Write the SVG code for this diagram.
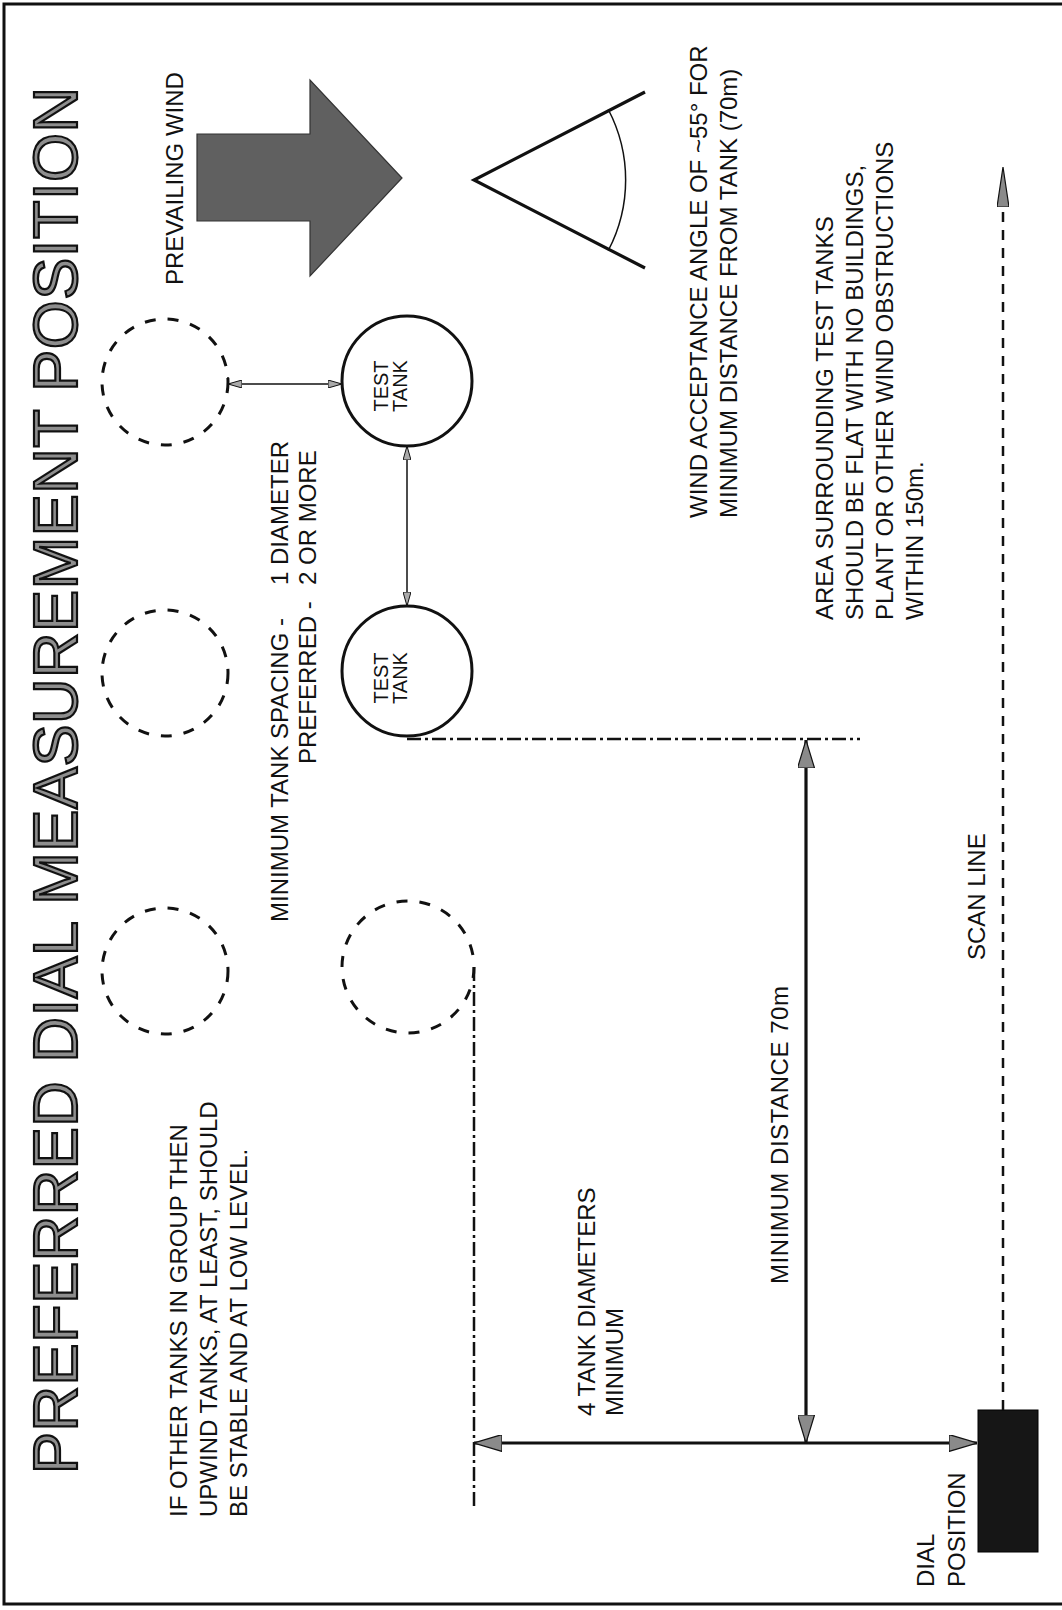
<svg xmlns="http://www.w3.org/2000/svg" width="1062" height="1610" viewBox="0 0 1062 1610">
<defs>
<style>
.t{font-family:"Liberation Sans",Arial,Helvetica,sans-serif;font-size:24px;fill:#111}
.title{font-size:63px;fill:#8e8e8e;stroke:#111;stroke-width:2.2}
.tk{font-size:20px;text-anchor:middle}
.dashc{fill:none;stroke:#111;stroke-width:3;stroke-dasharray:11 12}
.tank{fill:none;stroke:#111;stroke-width:3}
.dd{fill:none;stroke:#111;stroke-width:2.5;stroke-dasharray:14 4 3 4}
.scan{fill:none;stroke:#111;stroke-width:2.5;stroke-dasharray:10 8}
.thin{fill:none;stroke:#111;stroke-width:1.5}
.thick{fill:none;stroke:#111;stroke-width:3.2}
</style>
<marker id="big" viewBox="0 0 28 17" refX="28" refY="8.5" markerWidth="28" markerHeight="17" markerUnits="userSpaceOnUse" orient="auto-start-reverse">
<path d="M0,0 L28,8.5 L0,17 Z" fill="#8a8a8a" stroke="#111" stroke-width="1.2"/>
</marker>
<marker id="small" viewBox="0 0 14 8" refX="14" refY="4" markerWidth="14" markerHeight="8" markerUnits="userSpaceOnUse" orient="auto-start-reverse">
<path d="M0,0 L14,4 L0,8 Z" fill="#aaa" stroke="#111" stroke-width="1"/>
</marker>
<marker id="scanhead" viewBox="0 0 40 12" refX="40" refY="6" markerWidth="40" markerHeight="12" markerUnits="userSpaceOnUse" orient="auto">
<path d="M0,0 L40,6 L0,12 Z" fill="#8a8a8a" stroke="#111" stroke-width="1.2"/>
</marker>
</defs>
<rect width="1062" height="1610" fill="#fff"/>
<path id="frame" d="M1062,4 H4 V1604 H1062" fill="none" stroke="#111" stroke-width="3"/>

<g id="title"><text class="t title" transform="rotate(-90)" x="-1474" y="77" textLength="1387" lengthAdjust="spacing">PREFERRED DIAL MEASUREMENT POSITION</text></g>

<g id="wind-arrow">
<polygon points="197,134 310,134 310,80 402,178 310,276 310,221 197,221" fill="#606060" stroke="#333" stroke-width="1.2"/>
<text class="t" transform="rotate(-90)" x="-285" y="183">PREVAILING WIND</text>
</g>

<g id="acceptance-angle">
<polyline class="thick" points="645,92 474,180 645,268"/>
<path class="thin" d="M608.3,109.5 A152,152 0 0 1 608.3,250.5"/>
<text class="t" transform="rotate(-90)" x="-518" y="707">WIND ACCEPTANCE ANGLE OF ~55° FOR</text>
<text class="t" transform="rotate(-90)" x="-518" y="737">MINIMUM DISTANCE FROM TANK (70m)</text>
</g>

<g id="upwind-tank-1"><circle class="dashc" cx="165" cy="382" r="63"/></g>
<g id="upwind-tank-2"><circle class="dashc" cx="165" cy="673" r="63"/></g>
<g id="upwind-tank-3"><circle class="dashc" cx="165" cy="971" r="63"/></g>
<g id="other-tank"><circle class="dashc" cx="408" cy="967" r="66"/></g>

<g id="test-tank-1">
<circle class="tank" cx="407" cy="381" r="65"/>
<text class="t tk" transform="rotate(-90)" x="-386" y="388">TEST</text>
<text class="t tk" transform="rotate(-90)" x="-386" y="407">TANK</text>
</g>
<g id="test-tank-2">
<circle class="tank" cx="407" cy="671" r="65"/>
<text class="t tk" transform="rotate(-90)" x="-678" y="388">TEST</text>
<text class="t tk" transform="rotate(-90)" x="-678" y="407">TANK</text>
</g>

<g id="dial-position">
<rect x="978" y="1410" width="60" height="142" fill="#161616" stroke="#000" stroke-width="1"/>
<text class="t" transform="rotate(-90)" x="-1587" y="934">DIAL</text>
<text class="t" transform="rotate(-90)" x="-1587" y="965">POSITION</text>
</g>

<g id="connectors">
<line class="thin" x1="228" y1="384" x2="342" y2="384" marker-start="url(#small)" marker-end="url(#small)"/>
<line x1="228" y1="377" x2="228" y2="391" stroke="#111" stroke-width="1.5"/>
<line class="thin" x1="407" y1="446" x2="407" y2="606" marker-start="url(#small)" marker-end="url(#small)"/>
<line class="dd" x1="407" y1="739" x2="860" y2="739"/>
<line class="dd" x1="474" y1="967" x2="474" y2="1506"/>
<line class="thick" x1="806" y1="740" x2="806" y2="1443" marker-start="url(#big)" marker-end="url(#big)"/>
<line class="thick" x1="474" y1="1443" x2="977" y2="1443" marker-start="url(#big)" marker-end="url(#big)"/>
<line class="scan" x1="1003" y1="1410" x2="1003" y2="206"/>
<line x1="1003" y1="207" x2="1003" y2="167" stroke="none" marker-end="url(#scanhead)"/>
</g>

<g id="labels">
<text class="t" transform="rotate(-90)" x="-922" y="288">MINIMUM TANK SPACING -</text>
<text class="t" transform="rotate(-90)" x="-585" y="288">1 DIAMETER</text>
<text class="t" transform="rotate(-90)" x="-764" y="316">PREFERRED -</text>
<text class="t" transform="rotate(-90)" x="-585" y="316">2 OR MORE</text>
<text class="t" transform="rotate(-90)" x="-620" y="833">AREA SURROUNDING TEST TANKS</text>
<text class="t" transform="rotate(-90)" x="-620" y="863">SHOULD BE FLAT WITH NO BUILDINGS,</text>
<text class="t" transform="rotate(-90)" x="-620" y="893">PLANT OR OTHER WIND OBSTRUCTIONS</text>
<text class="t" transform="rotate(-90)" x="-620" y="923">WITHIN 150m.</text>
<text class="t" transform="rotate(-90)" x="-960" y="985">SCAN LINE</text>
<text class="t" transform="rotate(-90)" x="-1284" y="788" textLength="298" lengthAdjust="spacing">MINIMUM DISTANCE 70m</text>
<text class="t" transform="rotate(-90)" x="-1416" y="595">4 TANK DIAMETERS</text>
<text class="t" transform="rotate(-90)" x="-1416" y="623">MINIMUM</text>
<text class="t" transform="rotate(-90)" x="-1517" y="187">IF OTHER TANKS IN GROUP THEN</text>
<text class="t" transform="rotate(-90)" x="-1517" y="217">UPWIND TANKS, AT LEAST, SHOULD</text>
<text class="t" transform="rotate(-90)" x="-1517" y="247">BE STABLE AND AT LOW LEVEL.</text>
</g>
</svg>
